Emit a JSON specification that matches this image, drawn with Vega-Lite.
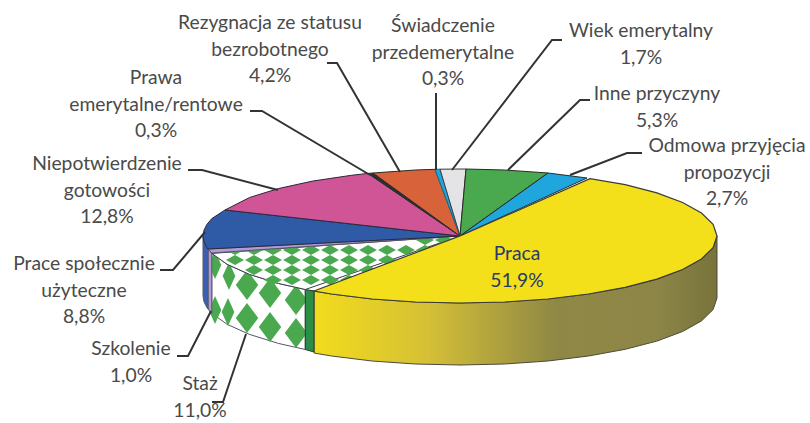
{
"$schema":"https://vega.github.io/schema/vega-lite/v6.json",
"width":810,"height":423,"padding":0,
"autosize":{"type":"none"},
"background":"white",
"config":{"view":{"stroke":null}},
"datasets":{
"shapes":[
{"part":"Praca bok","i":1,"x":717,"y":236},{"part":"Praca bok","i":2,"x":713.1,"y":247.6},{"part":"Praca bok","i":3,"x":701.5,"y":258.9},{"part":"Praca bok","i":4,"x":682.6,"y":269.5},{"part":"Praca bok","i":5,"x":656.9,"y":279.1},{"part":"Praca bok","i":6,"x":625.2,"y":287.3},{"part":"Praca bok","i":7,"x":588.5,"y":294},{"part":"Praca bok","i":8,"x":547.9,"y":299},{"part":"Praca bok","i":9,"x":504.6,"y":302},{"part":"Praca bok","i":10,"x":460,"y":303},{"part":"Praca bok","i":11,"x":415.4,"y":302},{"part":"Praca bok","i":12,"x":372.1,"y":299},{"part":"Praca bok","i":13,"x":331.5,"y":294},{"part":"Praca bok","i":14,"x":314,"y":291},{"part":"Praca bok","i":15,"x":314,"y":353},{"part":"Praca bok","i":16,"x":331.5,"y":356},{"part":"Praca bok","i":17,"x":372.1,"y":361},{"part":"Praca bok","i":18,"x":415.4,"y":364},{"part":"Praca bok","i":19,"x":460,"y":365},{"part":"Praca bok","i":20,"x":504.6,"y":364},{"part":"Praca bok","i":21,"x":547.9,"y":361},{"part":"Praca bok","i":22,"x":588.5,"y":356},{"part":"Praca bok","i":23,"x":625.2,"y":349.3},{"part":"Praca bok","i":24,"x":656.9,"y":341.1},{"part":"Praca bok","i":25,"x":682.6,"y":331.5},{"part":"Praca bok","i":26,"x":701.5,"y":320.9},{"part":"Praca bok","i":27,"x":713.1,"y":309.6},{"part":"Praca bok","i":28,"x":717,"y":298},{"part":"Praca bok","i":29,"x":717,"y":236},
{"part":"Staż bok","i":1,"x":305.3,"y":289.5},{"part":"Staż bok","i":2,"x":278.3,"y":283.4},{"part":"Staż bok","i":3,"x":249.5,"y":274.4},{"part":"Staż bok","i":4,"x":227.1,"y":264.3},{"part":"Staż bok","i":5,"x":211.8,"y":253.4},{"part":"Staż bok","i":6,"x":211.8,"y":313.4},{"part":"Staż bok","i":7,"x":227.1,"y":324.3},{"part":"Staż bok","i":8,"x":249.5,"y":334.4},{"part":"Staż bok","i":9,"x":278.3,"y":343.4},{"part":"Staż bok","i":10,"x":305.3,"y":349.5},{"part":"Staż bok","i":11,"x":305.3,"y":289.5},
{"part":"Przekrój","i":1,"x":305.3,"y":289.5},{"part":"Przekrój","i":2,"x":314,"y":291},{"part":"Przekrój","i":3,"x":314,"y":352},{"part":"Przekrój","i":4,"x":305.3,"y":349.5},{"part":"Przekrój","i":5,"x":305.3,"y":289.5},
{"part":"Szkolenie bok","i":1,"x":211.8,"y":253.4},{"part":"Szkolenie bok","i":2,"x":208,"y":249},{"part":"Szkolenie bok","i":3,"x":208,"y":309},{"part":"Szkolenie bok","i":4,"x":211.8,"y":313.4},{"part":"Szkolenie bok","i":5,"x":211.8,"y":253.4},
{"part":"Prace bok","i":1,"x":208,"y":249},{"part":"Prace bok","i":2,"x":206.9,"y":247.6},{"part":"Prace bok","i":3,"x":204,"y":241.8},{"part":"Prace bok","i":4,"x":203,"y":236},{"part":"Prace bok","i":5,"x":203,"y":296},{"part":"Prace bok","i":6,"x":204,"y":301.8},{"part":"Prace bok","i":7,"x":206.9,"y":307.6},{"part":"Prace bok","i":8,"x":208,"y":309},{"part":"Prace bok","i":9,"x":208,"y":249},
{"part":"Staż","i":1,"x":460,"y":236},{"part":"Staż","i":2,"x":305.3,"y":289.5},{"part":"Staż","i":3,"x":278.3,"y":283.4},{"part":"Staż","i":4,"x":249.5,"y":274.4},{"part":"Staż","i":5,"x":227.1,"y":264.3},{"part":"Staż","i":6,"x":211.8,"y":253.4},{"part":"Staż","i":7,"x":460,"y":236},
{"part":"Szkolenie","i":1,"x":460,"y":236},{"part":"Szkolenie","i":2,"x":211.8,"y":253},{"part":"Szkolenie","i":3,"x":208,"y":249},{"part":"Szkolenie","i":4,"x":460,"y":236},
{"part":"Prace społecznie użyteczne","i":1,"x":460,"y":236},{"part":"Prace społecznie użyteczne","i":2,"x":208,"y":249},{"part":"Prace społecznie użyteczne","i":3,"x":206.9,"y":247.6},{"part":"Prace społecznie użyteczne","i":4,"x":204,"y":241.8},{"part":"Prace społecznie użyteczne","i":5,"x":203,"y":236},{"part":"Prace społecznie użyteczne","i":6,"x":204,"y":230.2},{"part":"Prace społecznie użyteczne","i":7,"x":206.9,"y":224.4},{"part":"Prace społecznie użyteczne","i":8,"x":211.8,"y":218.6},{"part":"Prace społecznie użyteczne","i":9,"x":225,"y":210},{"part":"Prace społecznie użyteczne","i":10,"x":460,"y":236},
{"part":"Niepotwierdzenie gotowości","i":1,"x":460,"y":236},{"part":"Niepotwierdzenie gotowości","i":2,"x":225,"y":210},{"part":"Niepotwierdzenie gotowości","i":3,"x":249.5,"y":197.5},{"part":"Niepotwierdzenie gotowości","i":4,"x":278.3,"y":188.6},{"part":"Niepotwierdzenie gotowości","i":5,"x":312.5,"y":181.1},{"part":"Niepotwierdzenie gotowości","i":6,"x":351.4,"y":175.3},{"part":"Niepotwierdzenie gotowości","i":7,"x":368,"y":173.4},{"part":"Niepotwierdzenie gotowości","i":8,"x":460,"y":236},
{"part":"Prawa emerytalne/rentowe","i":1,"x":460,"y":236},{"part":"Prawa emerytalne/rentowe","i":2,"x":368,"y":173.4},{"part":"Prawa emerytalne/rentowe","i":3,"x":373,"y":173},{"part":"Prawa emerytalne/rentowe","i":4,"x":460,"y":236},
{"part":"Rezygnacja ze statusu bezrobotnego","i":1,"x":460,"y":236},{"part":"Rezygnacja ze statusu bezrobotnego","i":2,"x":373,"y":173},{"part":"Rezygnacja ze statusu bezrobotnego","i":3,"x":415.4,"y":170},{"part":"Rezygnacja ze statusu bezrobotnego","i":4,"x":435,"y":169.3},{"part":"Rezygnacja ze statusu bezrobotnego","i":5,"x":460,"y":236},
{"part":"Świadczenie przedemerytalne","i":1,"x":460,"y":236},{"part":"Świadczenie przedemerytalne","i":2,"x":435,"y":169.3},{"part":"Świadczenie przedemerytalne","i":3,"x":440,"y":169.2},{"part":"Świadczenie przedemerytalne","i":4,"x":460,"y":236},
{"part":"Wiek emerytalny","i":1,"x":460,"y":236},{"part":"Wiek emerytalny","i":2,"x":440,"y":169.2},{"part":"Wiek emerytalny","i":3,"x":460,"y":169},{"part":"Wiek emerytalny","i":4,"x":466,"y":169},{"part":"Wiek emerytalny","i":5,"x":460,"y":236},
{"part":"Inne przyczyny","i":1,"x":460,"y":236},{"part":"Inne przyczyny","i":2,"x":466,"y":169},{"part":"Inne przyczyny","i":3,"x":504.6,"y":170},{"part":"Inne przyczyny","i":4,"x":548,"y":173},{"part":"Inne przyczyny","i":5,"x":460,"y":236},
{"part":"Odmowa przyjęcia propozycji","i":1,"x":460,"y":236},{"part":"Odmowa przyjęcia propozycji","i":2,"x":548,"y":173},{"part":"Odmowa przyjęcia propozycji","i":3,"x":587,"y":178},{"part":"Odmowa przyjęcia propozycji","i":4,"x":460,"y":236},
{"part":"Praca","i":1,"x":460,"y":236},{"part":"Praca","i":2,"x":590,"y":178.7},{"part":"Praca","i":3,"x":625.2,"y":184.7},{"part":"Praca","i":4,"x":656.9,"y":192.9},{"part":"Praca","i":5,"x":682.6,"y":202.5},{"part":"Praca","i":6,"x":701.5,"y":213.1},{"part":"Praca","i":7,"x":713.1,"y":224.4},{"part":"Praca","i":8,"x":717,"y":236},{"part":"Praca","i":9,"x":713.1,"y":247.6},{"part":"Praca","i":10,"x":701.5,"y":258.9},{"part":"Praca","i":11,"x":682.6,"y":269.5},{"part":"Praca","i":12,"x":656.9,"y":279.1},{"part":"Praca","i":13,"x":625.2,"y":287.3},{"part":"Praca","i":14,"x":588.5,"y":294},{"part":"Praca","i":15,"x":547.9,"y":299},{"part":"Praca","i":16,"x":504.6,"y":302},{"part":"Praca","i":17,"x":460,"y":303},{"part":"Praca","i":18,"x":415.4,"y":302},{"part":"Praca","i":19,"x":372.1,"y":299},{"part":"Praca","i":20,"x":331.5,"y":294},{"part":"Praca","i":21,"x":314,"y":291},{"part":"Praca","i":22,"x":460,"y":236}
],
"sideDiamonds":[
{"x":215,"y":265,"g":"narrow"},{"x":229,"y":276,"g":"narrow"},{"x":215,"y":310,"g":"narrow"},{"x":228,"y":312,"g":"narrow"},
{"x":247,"y":285,"g":"wide"},{"x":270,"y":293,"g":"wide"},{"x":296,"y":300,"g":"wide"},{"x":247,"y":318,"g":"wide"},{"x":270,"y":327,"g":"wide"},{"x":296,"y":333,"g":"wide"}
],
"topDiamonds":[
{"x":425,"y":240},{"x":444,"y":240},
{"x":235,"y":250},{"x":254,"y":250},{"x":273,"y":250},{"x":292,"y":250},{"x":311,"y":250},{"x":330,"y":250},{"x":349,"y":250},{"x":368,"y":250},{"x":387,"y":250},{"x":406,"y":250},{"x":425,"y":250},
{"x":235,"y":260},{"x":254,"y":260},{"x":273,"y":260},{"x":292,"y":260},{"x":311,"y":260},{"x":330,"y":260},{"x":349,"y":260},{"x":368,"y":260},{"x":387,"y":260},
{"x":254,"y":270},{"x":273,"y":270},{"x":292,"y":270},{"x":311,"y":270},{"x":330,"y":270},{"x":349,"y":270},{"x":368,"y":270},
{"x":273,"y":280},{"x":292,"y":280},{"x":311,"y":280},{"x":330,"y":280},{"x":349,"y":280}
],
"leaders":[
{"name":"Rezygnacja","i":1,"x":327,"y":63},{"name":"Rezygnacja","i":2,"x":337,"y":63},{"name":"Rezygnacja","i":3,"x":400,"y":172},
{"name":"Świadczenie","i":1,"x":436,"y":93},{"name":"Świadczenie","i":2,"x":436,"y":170},
{"name":"Wiek","i":1,"x":562,"y":40},{"name":"Wiek","i":2,"x":552,"y":40},{"name":"Wiek","i":3,"x":452,"y":170},
{"name":"Inne","i":1,"x":590,"y":100},{"name":"Inne","i":2,"x":580,"y":100},{"name":"Inne","i":3,"x":508,"y":170},
{"name":"Odmowa","i":1,"x":642,"y":153},{"name":"Odmowa","i":2,"x":627,"y":153},{"name":"Odmowa","i":3,"x":570,"y":175},
{"name":"Prawa","i":1,"x":250,"y":111},{"name":"Prawa","i":2,"x":262,"y":111},{"name":"Prawa","i":3,"x":370,"y":175},
{"name":"Niepotwierdzenie","i":1,"x":188,"y":170},{"name":"Niepotwierdzenie","i":2,"x":202,"y":170},{"name":"Niepotwierdzenie","i":3,"x":278,"y":190},
{"name":"Prace","i":1,"x":160,"y":270},{"name":"Prace","i":2,"x":173,"y":270},{"name":"Prace","i":3,"x":205,"y":232},
{"name":"Szkolenie","i":1,"x":177,"y":356},{"name":"Szkolenie","i":2,"x":188,"y":356},{"name":"Szkolenie","i":3,"x":211,"y":311},
{"name":"Staż","i":1,"x":212,"y":402},{"name":"Staż","i":2,"x":223,"y":402},{"name":"Staż","i":3,"x":246,"y":334}
],
"labels":[
{"label":"Rezygnacja ze statusu\nbezrobotnego\n4,2%","x":270,"y":23},
{"label":"Świadczenie\nprzedemerytalne\n0,3%","x":443,"y":26},
{"label":"Wiek emerytalny\n1,7%","x":641,"y":31},
{"label":"Inne przyczyny\n5,3%","x":657,"y":94},
{"label":"Odmowa przyjęcia\npropozycji\n2,7%","x":727,"y":146},
{"label":"Prawa\nemerytalne/rentowe\n0,3%","x":156,"y":78},
{"label":"Niepotwierdzenie\ngotowości\n12,8%","x":107,"y":164},
{"label":"Prace społecznie\nużyteczne\n8,8%","x":84,"y":264},
{"label":"Szkolenie\n1,0%","x":131,"y":349},
{"label":"Staż\n11,0%","x":200,"y":384}
],
"inner":[{"label":"Praca\n51,9%","x":517,"y":254}]
},
"data":{"name":"shapes"},
"encoding":{
"x":{"field":"x","type":"quantitative","scale":{"domain":[0,810],"nice":false,"zero":false},"axis":null},
"y":{"field":"y","type":"quantitative","scale":{"domain":[423,0],"nice":false,"zero":false},"axis":null}
},
"layer":[
{"transform":[{"filter":"datum.part==='Praca bok'"}],
 "mark":{"type":"line","strokeWidth":1,"stroke":"#4a4a3a","fill":{"gradient":"linear","x1":0,"x2":1,"y1":0,"y2":0,"stops":[{"offset":0,"color":"#f2dc1c"},{"offset":0.28,"color":"#d5c036"},{"offset":0.6,"color":"#8f8845"},{"offset":0.85,"color":"#8d8648"},{"offset":1,"color":"#77733a"}]}},
 "encoding":{"order":{"field":"i","type":"quantitative"}}},
{"transform":[{"filter":"datum.part==='Staż bok'"}],
 "mark":{"type":"line","strokeWidth":1,"stroke":"#55556a","fill":"#ffffff"},
 "encoding":{"order":{"field":"i","type":"quantitative"}}},
{"data":{"name":"sideDiamonds"},"transform":[{"filter":"datum.g==='narrow'"}],
 "mark":{"type":"point","filled":true,"fill":"#4aa94f","stroke":null,"opacity":1,"size":784,"shape":"M0,-1L0.45,0L0,1L-0.45,0Z"}},
{"data":{"name":"sideDiamonds"},"transform":[{"filter":"datum.g==='wide'"}],
 "mark":{"type":"point","filled":true,"fill":"#4aa94f","stroke":null,"opacity":1,"size":900,"shape":"M0,-1L0.75,0L0,1L-0.75,0Z"}},
{"transform":[{"filter":"datum.part==='Przekrój'"}],
 "mark":{"type":"line","strokeWidth":1,"stroke":"#333333","fill":"#2a8f45"},
 "encoding":{"order":{"field":"i","type":"quantitative"}}},
{"transform":[{"filter":"datum.part==='Szkolenie bok'"}],
 "mark":{"type":"line","strokeWidth":1,"stroke":"#55556a","fill":"#b39ad8"},
 "encoding":{"order":{"field":"i","type":"quantitative"}}},
{"transform":[{"filter":"datum.part==='Prace bok'"}],
 "mark":{"type":"line","strokeWidth":1,"stroke":"#55556a","fill":"#3a5fb0"},
 "encoding":{"order":{"field":"i","type":"quantitative"}}},
{"transform":[{"filter":"datum.part==='Staż'"}],
 "mark":{"type":"line","strokeWidth":1,"stroke":"#3a3a4a","fill":"#ffffff"},
 "encoding":{"order":{"field":"i","type":"quantitative"}}},
{"data":{"name":"topDiamonds"},
 "mark":{"type":"point","filled":true,"fill":"#4aa94f","stroke":null,"opacity":1,"size":324,"shape":"M0,-0.55L1,0L0,0.55L-1,0Z"}},
{"transform":[{"filter":"datum.part==='Szkolenie'"}],
 "mark":{"type":"line","strokeWidth":1,"stroke":"#55556a","fill":"#b39ad8"},
 "encoding":{"order":{"field":"i","type":"quantitative"}}},
{"transform":[{"filter":"datum.part==='Prace społecznie użyteczne'"}],
 "mark":{"type":"line","strokeWidth":1,"stroke":"#2a2a3a","fill":"#2f5aa6"},
 "encoding":{"order":{"field":"i","type":"quantitative"}}},
{"transform":[{"filter":"datum.part==='Niepotwierdzenie gotowości'"}],
 "mark":{"type":"line","strokeWidth":1,"stroke":"#2a2a3a","fill":"#cf5596"},
 "encoding":{"order":{"field":"i","type":"quantitative"}}},
{"transform":[{"filter":"datum.part==='Prawa emerytalne/rentowe'"}],
 "mark":{"type":"line","strokeWidth":1,"stroke":"#2a2a2a","fill":"#2e2e2e"},
 "encoding":{"order":{"field":"i","type":"quantitative"}}},
{"transform":[{"filter":"datum.part==='Rezygnacja ze statusu bezrobotnego'"}],
 "mark":{"type":"line","strokeWidth":1,"stroke":"#2a2a2a","fill":"#d8623a"},
 "encoding":{"order":{"field":"i","type":"quantitative"}}},
{"transform":[{"filter":"datum.part==='Świadczenie przedemerytalne'"}],
 "mark":{"type":"line","strokeWidth":1,"stroke":"#1a6f90","fill":"#1fa6dd"},
 "encoding":{"order":{"field":"i","type":"quantitative"}}},
{"transform":[{"filter":"datum.part==='Wiek emerytalny'"}],
 "mark":{"type":"line","strokeWidth":1,"stroke":"#3a3a3a","fill":"#e4e3e5"},
 "encoding":{"order":{"field":"i","type":"quantitative"}}},
{"transform":[{"filter":"datum.part==='Inne przyczyny'"}],
 "mark":{"type":"line","strokeWidth":1,"stroke":"#2a2a2a","fill":"#4aa94f"},
 "encoding":{"order":{"field":"i","type":"quantitative"}}},
{"transform":[{"filter":"datum.part==='Odmowa przyjęcia propozycji'"}],
 "mark":{"type":"line","strokeWidth":1,"stroke":"#2a2a2a","fill":"#1fa6dd"},
 "encoding":{"order":{"field":"i","type":"quantitative"}}},
{"transform":[{"filter":"datum.part==='Praca'"}],
 "mark":{"type":"line","strokeWidth":1.2,"stroke":"#3a3a3a","fill":"#f3df1a"},
 "encoding":{"order":{"field":"i","type":"quantitative"}}},
{"data":{"name":"leaders"},
 "mark":{"type":"line","stroke":"#333333","strokeWidth":2},
 "encoding":{"detail":{"field":"name","type":"nominal"},"order":{"field":"i","type":"quantitative"}}},
{"data":{"name":"labels"},
 "mark":{"type":"text","font":"Lato","fontSize":19.3,"fill":"#4a4a4a","align":"center","baseline":"middle","lineBreak":"\n","lineHeight":26.7},
 "encoding":{"text":{"field":"label","type":"nominal"}}},
{"data":{"name":"inner"},
 "mark":{"type":"text","font":"Lato","fontSize":19.3,"fill":"#2b3a67","align":"center","baseline":"middle","lineBreak":"\n","lineHeight":26.7},
 "encoding":{"text":{"field":"label","type":"nominal"}}}
]
}
